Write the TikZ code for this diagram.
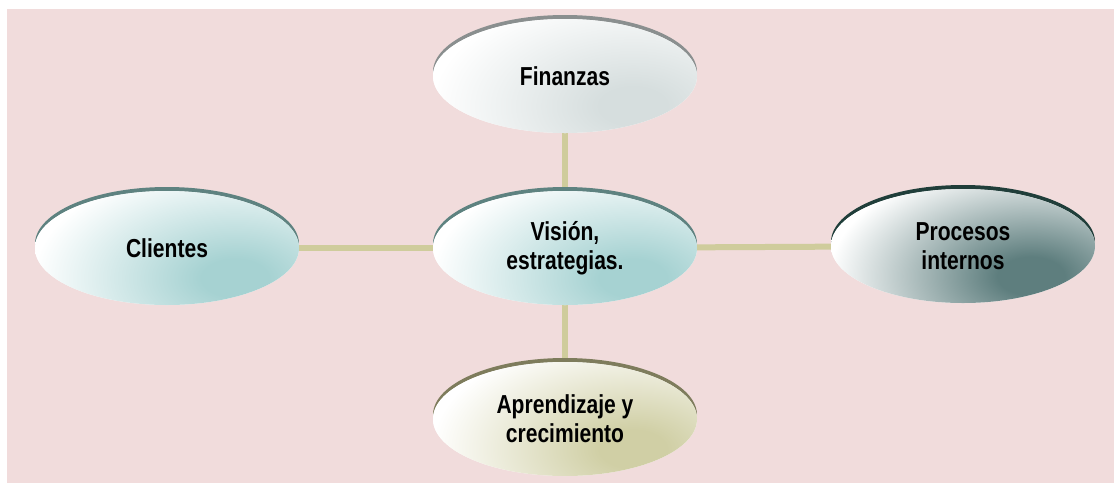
\documentclass[tikz,border=0pt]{standalone}
\usepackage{fontspec}
\setmainfont{Liberation Sans}[FakeStretch=0.81]
\usetikzlibrary{shapes.geometric,shadows}
\definecolor{BgPink}{RGB}{241,220,220}
\definecolor{LinkTan}{RGB}{207,204,156}
\definecolor{TealFill}{RGB}{166,210,210}
\definecolor{TealRim}{RGB}{94,130,128}
\definecolor{GrayFill}{RGB}{214,222,222}
\definecolor{GrayRim}{RGB}{138,143,143}
\definecolor{SlateFill}{RGB}{94,126,126}
\definecolor{SlateRim}{RGB}{32,62,58}
\definecolor{OliveFill}{RGB}{208,207,165}
\definecolor{OliveRim}{RGB}{126,124,92}
\colorlet{glowcol}{TealFill}
\pgfdeclareradialshading[glowcol]{glow}{\pgfpointorigin}{%
  color(0bp)=(glowcol); color(3bp)=(glowcol); color(18bp)=(white); color(50bp)=(white)}
\pgfdeclarelayer{bg}
\pgfdeclarelayer{links}
\pgfsetlayers{bg,links,main}
\tikzset{
  perspective/.style 2 args={ellipse,minimum width=264pt,minimum height=114pt,
    inner sep=0pt,align=center,font=\bfseries\fontsize{26}{29}\selectfont,
    general shadow={shadow xshift=0pt,shadow yshift=4pt,fill=#1,opacity=1},
    /utils/exec={\colorlet{glowcol}{#2}},fill=white,
    path picture={\shade[shading=glow]
      ([xshift=68pt,yshift=-30pt]path picture bounding box.center)
      ellipse [x radius=280pt,y radius=160pt];}},
  link/.style={line width=6pt,LinkTan}
}
\begin{document}
\begin{tikzpicture}[x=1pt,y=-1pt]
  \useasboundingbox (0,0) rectangle (1114,483);
  \begin{pgfonlayer}{bg}
    \fill[BgPink] (7,9) rectangle (1114,483);
  \end{pgfonlayer}
  \node[perspective={TealRim}{TealFill}] (vision) at (565,248) {Visión,\\estrategias.};
  \node[perspective={GrayRim}{GrayFill}] (finanzas) at (565,76) {Finanzas};
  \node[perspective={TealRim}{TealFill}] (clientes) at (167,248) {Clientes};
  \node[perspective={SlateRim}{SlateFill}] (procesos) at (963,246) {Procesos\\internos};
  \node[perspective={OliveRim}{OliveFill}] (aprendizaje) at (565,419) {Aprendizaje y\\crecimiento};
  \begin{pgfonlayer}{links}
    \draw[link] (vision) -- (finanzas);
    \draw[link] (vision) -- (clientes);
    \draw[link] (vision) -- (procesos);
    \draw[link] (vision) -- (aprendizaje);
  \end{pgfonlayer}
\end{tikzpicture}
\end{document}
